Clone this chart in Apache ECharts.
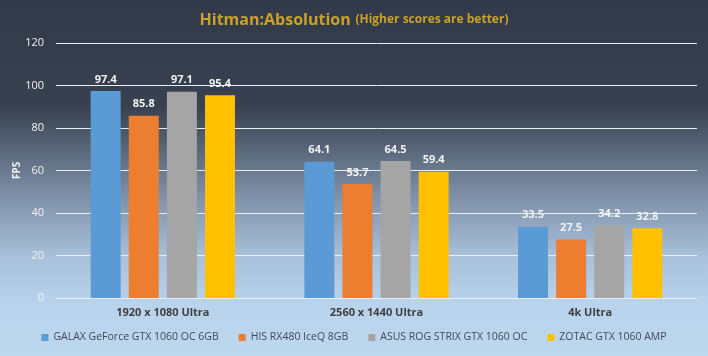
<!DOCTYPE html>
<html>
<head>
<meta charset="utf-8">
<script src="https://cdn.jsdelivr.net/npm/echarts@6/dist/echarts.min.js"></script>
<style>
  html, body { margin: 0; padding: 0; }
  #main { width: 708px; height: 356px; }
</style>
</head>
<body>
<div id="main"></div>
<script>
// data
var categories = ['1920 x 1080 Ultra', '2560 x 1440 Ultra', '4k Ultra'];
var galax = [97.4, 64.1, 33.5];
var his = [85.8, 53.7, 27.5];
var asus = [97.1, 64.5, 34.2];
var zotac = [95.4, 59.4, 32.8];
var names = ['GALAX GeForce GTX 1060 OC 6GB', 'HIS RX480 IceQ 8GB', 'ASUS ROG STRIX GTX 1060 OC', 'ZOTAC GTX 1060 AMP'];
var colors = ['#5b9bd5', '#ed7d31', '#a5a5a5', '#ffc000'];

var chart = echarts.init(document.getElementById('main'));

function bar(name, data, color) {
  return {
    name: name,
    type: 'bar',
    data: data,
    barWidth: 30,
    barGap: '27%',
    itemStyle: { color: color },
    label: {
      show: true,
      position: 'top',
      distance: 6,
      color: '#f2f2f2',
      fontFamily: 'Open Sans',
      fontWeight: 'bold',
      fontSize: 11
    }
  };
}

var option = {
  backgroundColor: new echarts.graphic.LinearGradient(0, 0, 0, 1, [
    { offset: 0, color: '#323a4a' },
    { offset: 0.3, color: '#38414f' },
    { offset: 0.56, color: '#8193ab' },
    { offset: 0.72, color: '#a8c0d9' },
    { offset: 0.85, color: '#b9d3ec' },
    { offset: 1, color: '#bdd7ee' }
  ]),
  textStyle: { fontFamily: 'Open Sans' },
  title: {
    text: '{a|Hitman:Absolution} {b|(Higher scores are better)}',
    left: 'center',
    top: 6,
    textStyle: {
      rich: {
        a: { color: '#c9a227', fontSize: 16, fontWeight: 'bold', fontFamily: 'Open Sans' },
        b: { color: '#c9a227', fontSize: 12, fontWeight: 'bold', fontFamily: 'Open Sans' }
      }
    }
  },
  legend: {
    bottom: 8,
    left: 'center',
    itemWidth: 7,
    itemHeight: 7,
    itemGap: 20,
    itemStyle: { borderWidth: 0 },
    icon: 'rect',
    textStyle: { color: '#404a5a', fontSize: 10.5, fontFamily: 'Open Sans' },
    data: names
  },
  grid: { left: 56, right: 11, top: 43, bottom: 58, containLabel: false, outerBoundsMode: 'none' },
  xAxis: {
    type: 'category',
    data: categories,
    axisLine: { show: false },
    axisTick: { show: false },
    axisLabel: { color: '#404040', fontWeight: 'bold', fontSize: 11, margin: 9 }
  },
  yAxis: {
    type: 'value',
    min: 0,
    max: 120,
    interval: 20,
    name: 'FPS',
    nameLocation: 'middle',
    nameGap: 34,
    nameMoveOverlap: false,
    nameTextStyle: { color: '#f2f2f2', fontWeight: 'bold', fontSize: 10 },
    axisLabel: { color: '#f2f2f2', fontSize: 11, margin: 12 },
    splitLine: { lineStyle: { color: '#e8eef6', width: 1 } }
  },
  series: [
    bar(names[0], galax, colors[0]),
    bar(names[1], his, colors[1]),
    bar(names[2], asus, colors[2]),
    bar(names[3], zotac, colors[3])
  ]
};

chart.setOption(option);
</script>
</body>
</html>
